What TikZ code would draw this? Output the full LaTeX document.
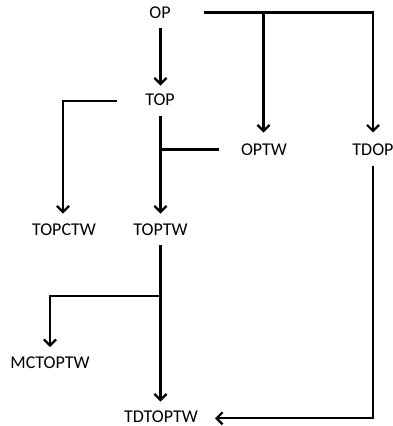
\documentclass[tikz,border=0pt]{standalone}
\usepackage{fontspec}
\setmainfont{Carlito}
\usetikzlibrary{arrows.meta,calc}
\begin{document}
\begin{tikzpicture}[x=1pt,y=-1pt,
  lbl/.style={inner sep=0pt,font=\fontsize{18}{21}\selectfont},
  conn/.style={line width=2.2pt},
  arr/.style={conn,-{Straight Barb[length=6pt,width=12pt,line width=2.2pt]}}]
\useasboundingbox (0,0) rectangle (393,426);
\node[lbl] (OP) at (160,12.5) {OP};
\node[lbl] (TOP) at (160,100) {TOP};
\node[lbl] (OPTW) at (264,149.5) {OPTW};
\node[lbl] (TDOP) at (373,149.5) {TDOP};
\node[lbl] (TOPCTW) at (64,229.5) {TOPCTW};
\node[lbl] (TOPTW) at (160.5,229.5) {TOPTW};
\node[lbl] (MCTOPTW) at (50,363) {MCTOPTW};
\node[lbl] (TDTOPTW) at (161,416.5) {TDTOPTW};
\coordinate (j1) at (263.5,12.3);
\coordinate (j2) at (160.5,296);
% OP -> TOP
\draw[arr] ($(OP.center)+(0.5,15.5)$) -- ($(TOP.center)+(0.5,-14.5)$);
% OP -> TDOP
\draw[arr] ($(OP.center)+(44,0)$) -| ($(TDOP.center)+(0,-17)$);
\draw[arr] (j1) -- ($(OPTW.center)+(-0.5,-17)$);
% TOP -> TOPCTW
\draw[arr] ($(TOP.center)+(-43,0.7)$) -| ($(TOPCTW.center)+(-1,-16)$);
% TOP -> TOPTW
\draw[arr] ($(TOP.center)+(0.5,16)$) -- ($(TOPTW.center)+(0,-16)$);
% OPTW -> line
\draw[conn] ($(OPTW.center)+(-45,0)$) -- ($(TOPTW.center |- OPTW.center)$);
% TOPTW -> TDTOPTW
\draw[arr] ($(TOPTW.center)+(0,15.5)$) -- ($(TDTOPTW.center)+(-0.5,-15)$);
% branch -> MCTOPTW
\draw[arr] (j2) -| ($(MCTOPTW.center)+(0,-16)$);
% TDOP -> TDTOPTW
\draw[arr] ($(TDOP.center)+(0,16)$) |- ($(TDTOPTW.center)+(54,1.8)$);
\end{tikzpicture}
\end{document}
